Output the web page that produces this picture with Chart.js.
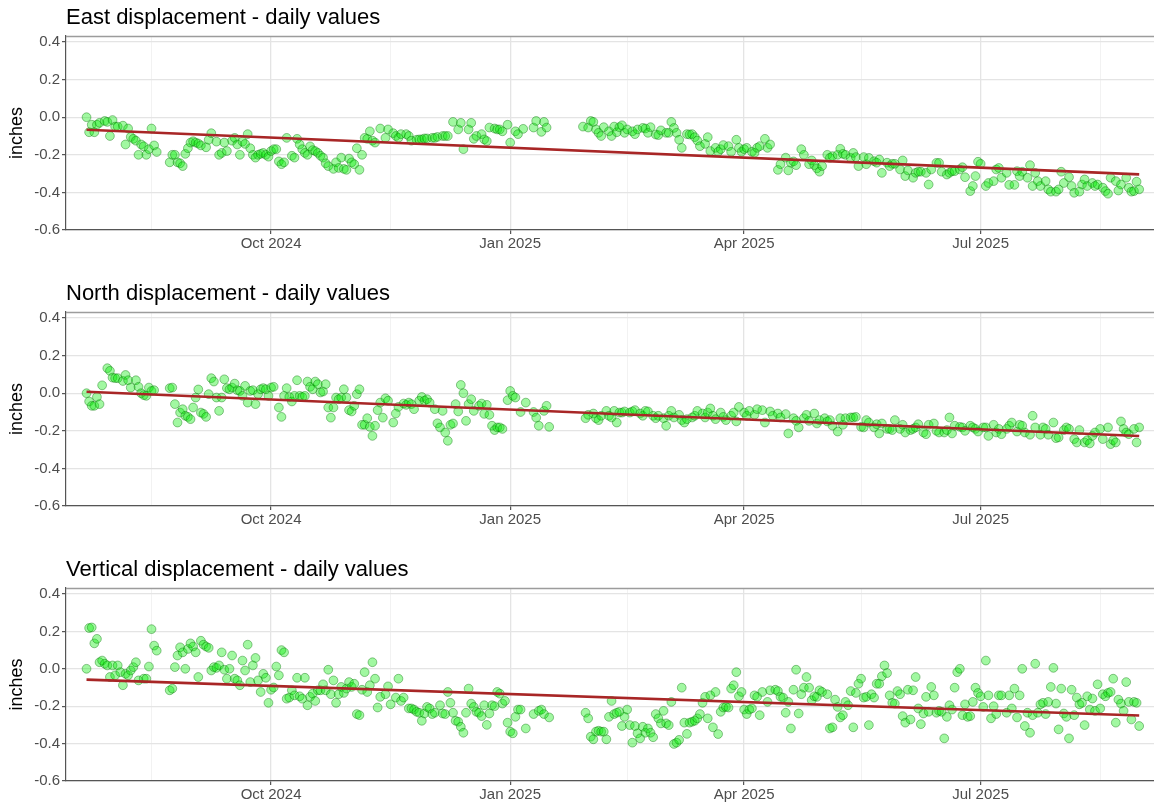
<!DOCTYPE html>
<html>
<head>
<meta charset="utf-8">
<script src="https://cdn.jsdelivr.net/npm/chart.js@4.4.1/dist/chart.umd.min.js"></script>
<style>
  html, body { margin: 0; padding: 0; background: #ffffff; width: 1154px; height: 806px; overflow: hidden; }
  canvas { position: absolute; left: 0; display: block; }
</style>
</head>
<body>
<canvas id="east" width="1154" height="276" style="top:0px"></canvas>
<canvas id="north" width="1154" height="276" style="top:276px"></canvas>
<canvas id="vert" width="1154" height="254" style="top:552px"></canvas>
<script>
// Day numbers are days since 2024-07-01 (day 0).
const panelTitles = ['East displacement - daily values', 'North displacement - daily values', 'Vertical displacement - daily values'];
const yAxisTitle = 'inches';
const xMajorDays = [92, 184, 274, 365];               // 1 Oct 2024, 1 Jan, 1 Apr, 1 Jul 2025
const xMajorLabels = ['Oct 2024', 'Jan 2025', 'Apr 2025', 'Jul 2025'];
const xMinorDays = [46, 138, 229, 319, 411];           // mid-month minor breaks
const xRange = [13.1, 431.7];
const yMajorTicks = [-0.6, -0.4, -0.2, 0, 0.2, 0.4];
const yMajorLabels = ['-0.6', '-0.4', '-0.2', '0.0', '0.2', '0.4'];
const yMinorTicks = [-0.5, -0.3, -0.1, 0.1, 0.3];
const yRange = [-0.6, 0.432];

// Linear trend lines (start / end)
const trendDays = [21, 426];
const eastTrend = [-0.067, -0.304];
const northTrend = [0.008, -0.228];
const vertTrend = [-0.058, -0.25];

// ---------- East ----------
const eastDays = [
  21,22,23,24,25,26,28,29,30,31,32,33,35,36,37,38,39,40,41,42,43,44,45,46,47,48,
  53,54,55,56,57,58,59,60,61,62,63,64,65,67,68,69,71,72,73,74,75,77,78,79,80,81,82,83,84,85,86,87,88,89,90,91,92,93,94,95,96,97,98,100,101,102,103,104,105,106,107,108,109,110,111,112,113,114,116,117,118,119,120,121,122,123,124,125,126,127,128,129,130,131,132,
  134,136,137,139,140,141,142,144,145,146,148,149,150,151,152,154,155,156,158,159,160,162,164,165,166,168,169,170,171,173,174,175,176,178,179,180,181,183,184,186,187,189,193,194,196,197,198,
  212,214,215,216,217,218,219,220,222,223,224,225,226,227,228,229,231,232,233,235,236,237,238,240,241,242,244,245,246,247,248,249,250,252,253,254,255,256,257,259,260,261,263,264,265,266,268,269,271,272,273,274,275,277,278,279,280,282,283,284,
  287,288,290,291,292,293,294,296,297,299,
  300,301,302,303,304,306,307,308,310,311,
  312,313,315,316,317,318,320,321,322,324,
  325,326,327,329,330,331,332,334,335,336,
  337,339,340,341,342,344,345,346,348,349,
  350,352,353,354,355,357,358,359,361,362,
  363,364,365,367,368,370,371,372,373,375,
  376,378,379,380,381,383,384,385,386,387,
  388,390,391,392,394,395,396,397,399,400,
  401,403,404,405,406,408,409,410,412,413,
  414,415,417,418,419,421,422,423,424,425,426
];
const eastValues = [
  0,-0.08,-0.04,-0.08,-0.04,-0.03,-0.02,-0.025,-0.1,-0.015,-0.05,-0.05,-0.045,-0.145,-0.06,-0.105,-0.115,-0.125,-0.2,-0.145,-0.155,-0.2,-0.17,-0.06,-0.15,-0.185,
  -0.24,-0.2,-0.2,-0.24,-0.245,-0.26,-0.195,-0.165,-0.135,-0.128,-0.135,-0.14,-0.15,-0.16,-0.12,-0.085,-0.13,-0.2,-0.19,-0.135,-0.18,-0.125,-0.11,-0.145,-0.2,-0.13,-0.142,-0.09,-0.165,-0.2,-0.215,-0.2,-0.195,-0.19,-0.2,-0.21,-0.18,-0.17,-0.17,-0.235,-0.25,-0.24,-0.11,-0.205,-0.215,-0.115,-0.145,-0.17,-0.19,-0.2,-0.155,-0.175,-0.18,-0.19,-0.205,-0.215,-0.245,-0.26,-0.275,-0.24,-0.27,-0.215,-0.275,-0.28,-0.22,-0.24,-0.25,-0.165,-0.28,-0.2,-0.11,-0.115,-0.075,-0.125,-0.135,
  -0.06,-0.11,-0.065,-0.085,-0.1,-0.11,-0.09,-0.09,-0.1,-0.125,-0.12,-0.118,-0.118,-0.113,-0.113,-0.11,-0.11,-0.105,-0.1,-0.1,-0.1,-0.025,-0.065,-0.03,-0.17,-0.065,-0.03,-0.115,-0.1,-0.09,-0.118,-0.127,-0.055,-0.06,-0.065,-0.065,-0.075,-0.04,-0.135,-0.075,-0.09,-0.062,-0.055,-0.02,-0.078,-0.025,-0.055,
  -0.05,-0.055,-0.02,-0.025,-0.065,-0.083,-0.1,-0.053,-0.075,-0.1,-0.05,-0.08,-0.053,-0.043,-0.083,-0.065,-0.075,-0.09,-0.065,-0.057,-0.06,-0.083,-0.053,-0.092,-0.095,-0.07,-0.083,-0.083,-0.025,-0.057,-0.083,-0.12,-0.163,-0.09,-0.092,-0.09,-0.106,-0.124,-0.154,-0.142,-0.106,-0.18,-0.163,-0.184,-0.17,-0.148,-0.154,-0.184,-0.12,-0.163,-0.184,-0.17,-0.163,-0.184,-0.19,-0.163,-0.154,-0.115,-0.163,-0.145,
  -0.28,-0.25,-0.215,-0.283,-0.242,-0.235,-0.255,-0.17,-0.2,-0.25,
  -0.23,-0.255,-0.272,-0.29,-0.26,-0.2,-0.216,-0.207,-0.2,-0.168,
  -0.195,-0.2,-0.216,-0.19,-0.212,-0.26,-0.212,-0.25,-0.216,-0.234,
  -0.242,-0.225,-0.296,-0.242,-0.26,-0.248,-0.248,-0.278,-0.23,-0.313,
  -0.283,-0.322,-0.296,-0.29,-0.29,-0.296,-0.358,-0.278,-0.243,-0.243,
  -0.29,-0.305,-0.296,-0.287,-0.287,-0.278,-0.266,-0.319,-0.393,-0.366,
  -0.313,-0.237,-0.248,-0.366,-0.35,-0.34,-0.278,-0.27,-0.322,-0.296,
  -0.36,-0.36,-0.287,-0.313,-0.29,-0.322,-0.255,-0.366,-0.296,-0.34,
  -0.366,-0.34,-0.384,-0.396,-0.396,-0.384,-0.29,-0.35,-0.319,-0.366,
  -0.402,-0.396,-0.358,-0.331,-0.366,-0.35,-0.366,-0.358,-0.375,-0.393,
  -0.407,-0.322,-0.34,-0.39,-0.358,-0.322,-0.375,-0.396,-0.393,-0.343,-0.384
];

// ---------- North ----------
const northDays = [
  21,22,23,24,25,26,27,29,30,31,
  32,33,35,36,37,38,40,41,42,43,
  44,45,46,47,
  53,54,55,56,57,58,59,60,61,62,
  63,64,65,66,67,68,69,70,71,72,
  73,74,75,76,77,78,79,80,81,82,
  83,84,85,86,87,88,89,90,91,92,
  93,95,96,97,98,99,100,101,102,103,
  104,105,106,107,108,109,110,111,112,113,
  114,115,116,117,118,119,120,121,122,123,
  124,125,126,127,128,129,130,131,132,133,
  134,135,136,137,139,140,141,143,144,145,
  146,147,149,150,151,152,153,155,156,157,
  158,159,160,161,162,163,164,165,166,167,
  168,169,170,172,173,174,175,176,177,178,
  179,180,181,183,184,185,186,188,190,193,
  194,195,197,198,199,
  213,214,216,217,218,219,221,222,223,224,
  225,226,227,228,230,231,232,234,235,236,
  237,239,240,241,243,244,245,246,247,249,
  250,251,252,254,255,256,258,259,260,261,
  262,263,265,266,267,269,270,271,272,274,
  275,276,278,279,
  281,282,284,285,287,288,290,291,293,294,
  295,297,298,299,301,302,303,305,306,307,
  308,310,311,312,313,315,316,317,319,320,
  321,322,324,325,326,327,329,330,331,332,
  334,335,336,338,339,340,341,343,344,345,
  347,348,349,351,352,353,354,355,357,358,
  359,361,362,363,364,366,367,368,370,371,
  372,373,375,376,377,379,380,381,382,384,
  385,386,388,389,390,391,393,394,395,397,
  398,399,401,402,403,405,406,407,408,409,
  411,412,414,415,416,417,419,420,421,422,
  424,425,426
];
const northValues = [
  0,-0.044,-0.067,-0.067,-0.02,-0.058,0.042,0.133,0.119,0.083,
  0.08,0.08,0.065,0.097,0.069,0.03,0.069,0.034,0,-0.01,
  -0.014,0.03,0.012,0.016,
  0.027,0.03,-0.058,-0.156,-0.103,-0.085,-0.12,-0.126,-0.138,-0.076,
  -0.023,0.02,-0.103,-0.11,-0.126,-0.005,0.08,0.062,-0.023,-0.094,
  -0.023,0.074,0.027,0.021,0.03,0.051,0.016,0.012,-0.014,0.039,
  -0.05,0.012,0.016,-0.058,-0.005,0.021,0.027,0.021,-0.014,0.03,
  0.034,-0.076,-0.126,-0.014,0.027,-0.02,-0.044,-0.014,0.069,-0.014,
  -0.02,-0.014,0.062,0.034,0.021,0.062,0.048,0.004,0.009,0.048,
  -0.076,-0.13,-0.076,-0.023,-0.032,-0.023,0.021,-0.023,-0.09,-0.097,
  -0.067,-0.005,0.021,-0.168,-0.168,-0.133,-0.179,-0.227,-0.173,-0.09,
  -0.05,-0.13,-0.027,-0.04,-0.156,-0.108,-0.073,-0.055,-0.062,-0.05,
  -0.058,-0.085,-0.04,-0.02,-0.04,-0.032,-0.05,-0.085,-0.16,-0.182,
  -0.094,-0.209,-0.253,-0.168,-0.161,-0.058,-0.097,0.044,0,-0.147,
  -0.058,-0.032,-0.094,-0.067,-0.055,-0.11,-0.062,-0.115,-0.173,-0.196,
  -0.182,-0.182,-0.19,-0.037,0.012,-0.014,-0.023,-0.1,-0.05,-0.1,
  -0.13,-0.173,-0.094,-0.067,-0.179,
  -0.133,-0.115,-0.108,-0.133,-0.143,-0.12,-0.094,-0.12,-0.129,-0.094,
  -0.156,-0.103,-0.103,-0.097,-0.103,-0.097,-0.09,-0.108,-0.12,-0.094,
  -0.097,-0.12,-0.133,-0.12,-0.133,-0.173,-0.12,-0.094,-0.129,-0.115,
  -0.143,-0.156,-0.138,-0.129,-0.12,-0.094,-0.108,-0.129,-0.103,-0.081,
  -0.12,-0.138,-0.103,-0.126,-0.143,-0.12,-0.103,-0.15,-0.073,-0.103,
  -0.12,-0.094,-0.115,-0.085,
  -0.09,-0.156,-0.097,-0.12,-0.108,-0.129,-0.111,-0.214,-0.133,-0.147,
  -0.182,-0.133,-0.115,-0.147,-0.108,-0.161,-0.143,-0.133,-0.15,-0.143,
  -0.173,-0.204,-0.133,-0.168,-0.133,-0.129,-0.129,-0.126,-0.179,-0.182,
  -0.143,-0.156,-0.182,-0.165,-0.214,-0.161,-0.19,-0.19,-0.196,-0.143,
  -0.19,-0.168,-0.209,-0.196,-0.19,-0.182,-0.165,-0.209,-0.218,-0.168,
  -0.161,-0.2,-0.209,-0.209,-0.196,-0.129,-0.214,-0.173,-0.179,-0.182,
  -0.2,-0.173,-0.182,-0.19,-0.204,-0.182,-0.182,-0.227,-0.168,-0.209,
  -0.19,-0.218,-0.19,-0.173,-0.156,-0.204,-0.168,-0.173,-0.209,-0.221,
  -0.12,-0.182,-0.221,-0.182,-0.19,-0.221,-0.156,-0.239,-0.235,-0.196,
  -0.182,-0.19,-0.244,-0.262,-0.196,-0.262,-0.25,-0.267,-0.227,-0.209,
  -0.19,-0.244,-0.182,-0.271,-0.25,-0.262,-0.15,-0.19,-0.209,-0.218,
  -0.19,-0.262,-0.182
];

// ---------- Vertical ----------
const vertDays = [
  21,22,23,24,25,26,27,28,29,30,
  31,32,33,34,35,36,37,38,39,40,
  41,43,44,45,46,47,48,
  53,54,55,56,57,58,59,60,61,62,
  63,64,65,66,67,68,69,70,71,72,
  73,74,75,76,77,78,79,80,81,82,
  83,84,85,86,87,88,89,90,91,92,
  93,94,95,96,97,98,99,100,101,102,
  103,104,105,106,107,108,109,110,111,112,
  113,114,115,116,117,118,119,120,121,122,
  123,124,125,126,127,128,129,130,131,132,133,
  134,136,137,138,140,141,142,143,145,146,
  147,148,149,150,151,152,153,154,155,157,
  158,159,160,161,162,163,164,165,166,167,
  168,169,170,171,172,173,174,175,176,177,
  178,179,180,181,182,183,184,185,186,187,
  188,190,193,195,196,197,199,
  213,214,215,216,217,218,219,220,221,222,
  223,224,225,226,227,228,229,230,231,232,
  233,234,235,236,237,238,239,240,241,242,
  243,244,245,246,247,248,249,250,251,252,
  253,254,255,256,257,258,259,260,261,262,
  263,264,265,266,267,268,269,270,271,272,
  273,274,275,276,277,278,279,280,
  281,283,284,286,287,288,289,290,291,292,
  293,294,295,296,297,298,299,300,301,302,
  303,304,306,307,308,309,310,311,312,313,
  314,315,316,317,318,319,320,321,322,323,
  324,325,326,327,328,329,330,331,332,333,
  334,335,336,337,338,339,340,341,342,343,
  344,345,346,347,348,349,350,351,352,353,
  354,355,356,357,358,359,360,361,362,363,
  364,365,366,367,368,369,370,371,372,373,
  375,376,377,378,379,380,381,382,383,384,
  385,386,387,388,389,390,391,392,393,394,
  395,396,397,398,399,400,401,402,403,404,
  405,406,407,408,409,410,411,412,413,414,
  415,416,417,418,419,420,421,422,423,424,
  425,426
];
const vertValues = [
  0,0.218,0.221,0.136,0.16,0.035,0.044,0.027,0.018,-0.044,
  0.018,-0.035,0.018,-0.018,-0.088,-0.027,-0.035,-0.009,0.009,0.035,
  -0.062,-0.053,-0.053,0.012,0.212,0.124,0.097,
  -0.115,-0.106,0.009,0.071,0.115,0.088,0,0.106,0.136,0.119,
  0.088,-0.044,0.15,0.129,0.119,0.112,-0.009,0.009,0.005,0.018,
  0.088,-0.005,-0.053,0,0.071,-0.053,-0.062,-0.088,0.044,-0.009,
  0.129,-0.071,0.018,0.058,-0.062,-0.124,-0.027,-0.048,-0.182,-0.112,
  -0.1,0.012,-0.035,0.1,0.088,-0.16,-0.154,-0.115,-0.142,-0.048,
  -0.147,-0.16,-0.048,-0.195,-0.15,-0.133,-0.172,-0.115,-0.115,-0.083,
  -0.115,-0.005,-0.136,-0.062,-0.182,-0.136,-0.097,-0.129,-0.106,-0.071,
  -0.097,-0.08,-0.242,-0.248,-0.112,-0.018,-0.124,-0.088,0.035,-0.053,-0.207,
  -0.15,-0.136,-0.094,-0.19,-0.154,-0.053,-0.172,-0.154,-0.212,-0.212,
  -0.218,-0.23,-0.235,-0.278,-0.239,-0.204,-0.212,-0.242,-0.235,-0.195,
  -0.239,-0.242,-0.124,-0.182,-0.235,-0.278,-0.283,-0.31,-0.342,-0.235,
  -0.106,-0.186,-0.204,-0.23,-0.235,-0.253,-0.195,-0.3,-0.239,-0.195,
  -0.2,-0.124,-0.133,-0.186,-0.172,-0.288,-0.336,-0.345,-0.257,-0.218,
  -0.218,-0.319,-0.242,-0.225,-0.218,-0.242,-0.26,
  -0.235,-0.265,-0.363,-0.377,-0.336,-0.331,-0.336,-0.336,-0.377,-0.257,
  -0.172,-0.242,-0.235,-0.23,-0.306,-0.257,-0.218,-0.301,-0.395,-0.306,
  -0.345,-0.372,-0.31,-0.342,-0.319,-0.342,-0.366,-0.242,-0.265,-0.292,
  -0.225,-0.292,-0.301,-0.177,-0.402,-0.395,-0.38,-0.101,-0.288,-0.348,
  -0.288,-0.283,-0.278,-0.265,-0.242,-0.182,-0.15,-0.265,-0.142,-0.313,
  -0.124,-0.349,-0.23,-0.207,-0.204,-0.207,-0.106,-0.088,-0.018,-0.147,
  -0.124,-0.218,-0.242,-0.218,-0.212,-0.142,-0.15,-0.248,
  -0.124,-0.177,-0.115,-0.112,-0.119,-0.15,-0.154,-0.235,-0.177,-0.319,
  -0.112,-0.005,-0.239,-0.136,-0.101,-0.044,-0.101,-0.168,-0.147,-0.15,
  -0.115,-0.124,-0.136,-0.319,-0.313,-0.165,-0.204,-0.26,-0.248,-0.177,
  -0.195,-0.119,-0.313,-0.129,-0.08,-0.053,-0.154,-0.15,-0.301,-0.136,
  -0.154,-0.08,-0.08,-0.04,0.018,-0.023,-0.142,-0.182,-0.186,-0.119,
  -0.136,-0.253,-0.288,-0.112,-0.271,-0.115,-0.044,-0.212,-0.296,-0.239,
  -0.15,-0.23,-0.097,-0.142,-0.235,-0.225,-0.23,-0.372,-0.257,-0.195,
  -0.218,-0.101,-0.018,0,-0.248,-0.19,-0.257,-0.253,-0.177,-0.101,
  -0.129,-0.147,-0.204,0.044,-0.142,-0.265,-0.2,-0.242,-0.142,-0.142,
  -0.235,-0.142,-0.212,-0.106,-0.26,-0.142,0,-0.306,-0.235,-0.342,
  -0.248,0.027,-0.235,-0.19,-0.182,-0.242,-0.177,-0.097,0.005,-0.186,
  -0.324,-0.106,-0.239,-0.257,-0.372,-0.112,-0.248,-0.154,-0.19,-0.182,
  -0.301,-0.147,-0.218,-0.159,-0.225,-0.083,-0.212,-0.136,-0.147,-0.129,
  -0.124,-0.053,-0.288,-0.165,-0.186,-0.225,-0.071,-0.177,-0.271,-0.177,
  -0.182,-0.306
];

// ---------- drawing ----------
const FONT = '"Liberation Sans", Arial, Helvetica, sans-serif';
const near = (a, b) => Math.abs(a - b) < 1e-6;
const inList = (v, arr) => arr.some(a => near(a, v));
const xAllTicks = xMajorDays.concat(xMinorDays).sort((a, b) => a - b);
const yAllTicks = yMajorTicks.concat(yMinorTicks).sort((a, b) => a - b);

const topBorder = {
  id: 'topBorder',
  afterDraw(chart) {
    const { ctx, chartArea: a } = chart;
    ctx.save();
    ctx.strokeStyle = '#9c9c9c';
    ctx.lineWidth = 1.4;
    ctx.beginPath();
    ctx.moveTo(a.left, a.top + 0.5);
    ctx.lineTo(a.right, a.top + 0.5);
    ctx.stroke();
    ctx.restore();
  }
};

function makePanel(canvasId, title, days, values, trend, xAxisHeight) {
  const n = Math.min(days.length, values.length);
  const points = [];
  for (let i = 0; i < n; i++) points.push({ x: days[i], y: values[i] });
  const trendLine = trendDays.map((d, i) => ({ x: d, y: trend[i] }));

  return new Chart(document.getElementById(canvasId), {
    type: 'scatter',
    data: {
      datasets: [
        {
          data: trendLine, showLine: true, order: 0,
          borderColor: '#a82626', borderWidth: 2.6, pointRadius: 0, fill: false
        },
        {
          data: points, order: 1,
          pointRadius: 4.4, pointBorderWidth: 0.8,
          pointBackgroundColor: 'rgba(0, 235, 0, 0.37)',
          pointBorderColor: 'rgba(0, 110, 0, 0.5)'
        }
      ]
    },
    options: {
      responsive: false,
      animation: false,
      events: [],
      layout: { padding: 0, autoPadding: false },
      plugins: {
        legend: { display: false },
        tooltip: { enabled: false },
        title: {
          display: true, text: title, align: 'start', fullSize: false,
          color: '#000000',
          font: { family: FONT, size: 22, weight: 'normal', lineHeight: 1.2 },
          padding: { top: 5, bottom: 4.6 }
        }
      },
      scales: {
        x: {
          type: 'linear', min: xRange[0], max: xRange[1],
          afterBuildTicks: s => { s.ticks = xAllTicks.map(v => ({ value: v })); },
          afterFit: s => { s.height = xAxisHeight; },
          ticks: {
            autoSkip: false, maxRotation: 0, minRotation: 0, padding: 1,
            color: '#4d4d4d', font: { family: FONT, size: 15 },
            callback: v => { const i = xMajorDays.findIndex(d => near(d, v)); return i >= 0 ? xMajorLabels[i] : ''; }
          },
          grid: {
            color: c => inList(c.tick.value, xMajorDays) ? '#e4e4e4' : '#f0f0f0',
            lineWidth: c => inList(c.tick.value, xMajorDays) ? 1.3 : 0.9,
            tickColor: c => inList(c.tick.value, xMajorDays) ? '#444444' : 'rgba(0,0,0,0)',
            tickLength: 4, tickWidth: 1.1, drawTicks: true
          },
          border: { display: true, color: '#555555', width: 1.2 }
        },
        y: {
          min: yRange[0], max: yRange[1],
          afterBuildTicks: s => { s.ticks = yAllTicks.map(v => ({ value: v })); },
          afterFit: s => { s.width = 66; },
          ticks: {
            padding: 2, color: '#4d4d4d', font: { family: FONT, size: 15 },
            callback: v => { const i = yMajorTicks.findIndex(t => near(t, v)); return i >= 0 ? yMajorLabels[i] : ''; }
          },
          title: {
            display: true, text: yAxisTitle, color: '#000000',
            font: { family: FONT, size: 18, lineHeight: 1.2 },
            padding: { top: 6, bottom: 0 }
          },
          grid: {
            color: c => inList(c.tick.value, yMajorTicks) ? '#e4e4e4' : '#f0f0f0',
            lineWidth: c => inList(c.tick.value, yMajorTicks) ? 1.3 : 0.9,
            tickColor: c => inList(c.tick.value, yMajorTicks) ? '#444444' : 'rgba(0,0,0,0)',
            tickLength: 4, tickWidth: 1.1, drawTicks: true
          },
          border: { display: true, color: '#555555', width: 1.2 }
        }
      }
    },
    plugins: [topBorder]
  });
}

makePanel('east', panelTitles[0], eastDays, eastValues, eastTrend, 46);
makePanel('north', panelTitles[1], northDays, northValues, northTrend, 46);
makePanel('vert', panelTitles[2], vertDays, vertValues, vertTrend, 25);
</script>
</body>
</html>
